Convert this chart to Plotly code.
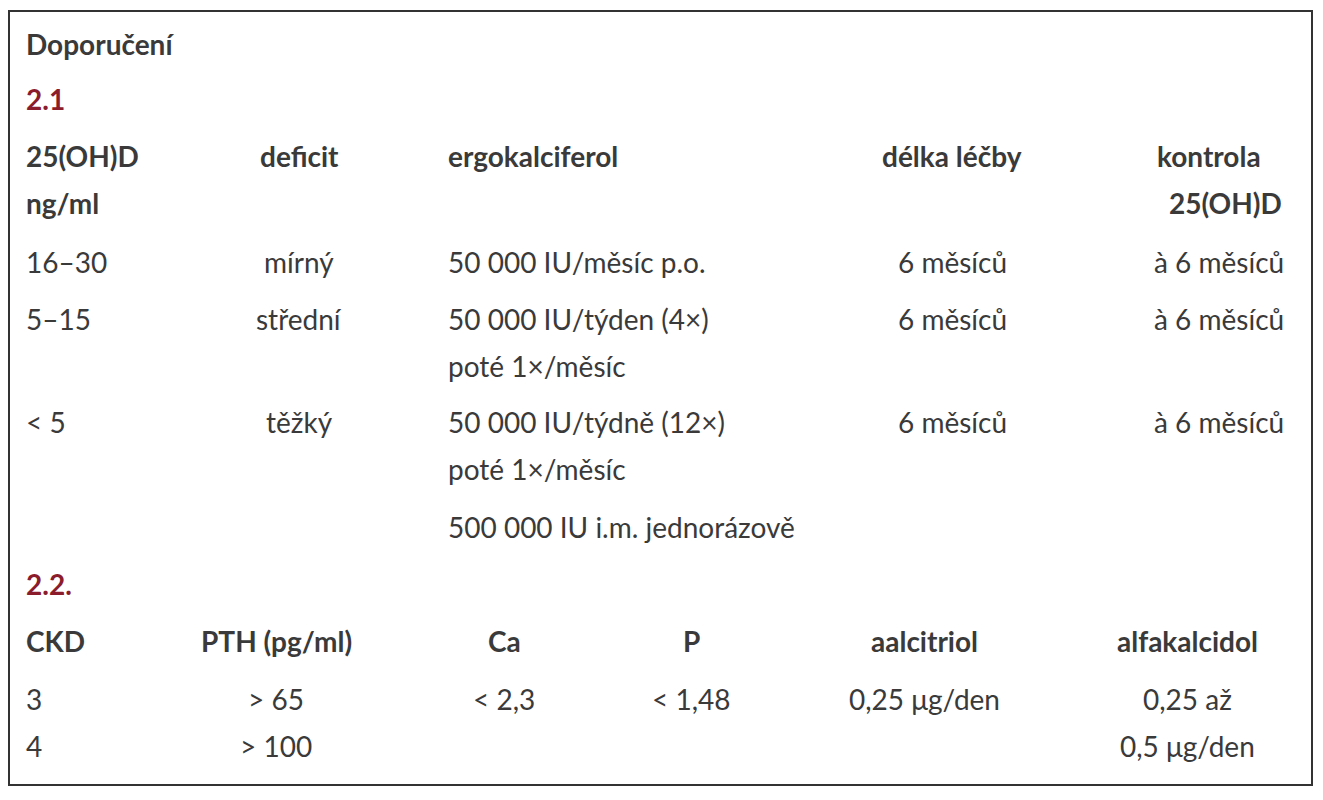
import plotly.graph_objects as go

title = "Doporučení"
sec1 = "2.1"
sec2 = "2.2."
s1_headers = [["25(OH)D", "ng/ml"], ["deficit"], ["ergokalciferol"], ["délka léčby"], ["kontrola", "25(OH)D"]]
s1_level = [["16–30"], ["5–15"], ["< 5"], []]
s1_deficit = [["mírný"], ["střední"], ["těžký"], []]
s1_dose = [["50 000 IU/měsíc p.o."], ["50 000 IU/týden (4×)", "poté 1×/měsíc"],
           ["50 000 IU/týdně (12×)", "poté 1×/měsíc"], ["500 000 IU i.m. jednorázově"]]
s1_length = [["6 měsíců"], ["6 měsíců"], ["6 měsíců"], []]
s1_control = [["à 6 měsíců"], ["à 6 měsíců"], ["à 6 měsíců"], []]
s2_headers = ["CKD", "PTH (pg/ml)", "Ca", "P", "aalcitriol", "alfakalcidol"]
s2_ckd = ["3", "4"]
s2_pth = ["> 65", "> 100"]
s2_ca = ["< 2,3", ""]
s2_p = ["< 1,48", ""]
s2_calcitriol = ["0,25 μg/den", ""]
s2_alfa = ["0,25 až", "0,5 μg/den"]

TXT = "#3a3a3a"
RED = "#8b1c2c"
FS = 28
LH = 47
DX, DY = -9, -9
anns = []

def add(x, y, t, anchor="left", bold=False, color=TXT):
    anns.append(dict(x=x + DX, y=y + DY, xref="x", yref="y", text=f"<b>{t}</b>" if bold else t,
                     showarrow=False, xanchor=anchor, yanchor="middle",
                     font=dict(family="Lato", size=FS, color=color)))

add(25, 45, title, bold=True)
add(25, 100, sec1, bold=True, color=RED)
hx = [(25, "left"), (300, "center"), (447, "left"), (953, "center"), (1210, "center")]
for (x, a), lines in zip(hx, s1_headers):
    for i, l in enumerate(lines):
        if x == 1210 and i == 1:
            add(1285, 157 + i * LH, l, "right", True)
        else:
            add(x, 157 + i * LH, l, a, True)
row_y = [263, 320, 423, 528]
cols = [(s1_level, 25, "left"), (s1_deficit, 300, "center"), (s1_dose, 447, "left"),
        (s1_length, 953, "center"), (s1_control, 1287, "right")]
for data, x, a in cols:
    for y, lines in zip(row_y, data):
        for i, l in enumerate(lines):
            add(x, y + i * LH, l, a)
add(25, 585, sec2, bold=True, color=RED)
s2x = [(25, "left"), (277, "center"), (505, "center"), (692, "center"), (925, "center"), (1188, "center")]
for (x, a), h in zip(s2x, s2_headers):
    add(x, 642, h, a, True)
for (x, a), col in zip(s2x, [s2_ckd, s2_pth, s2_ca, s2_p, s2_calcitriol, s2_alfa]):
    for i, v in enumerate(col):
        if v:
            add(x, 700 + i * LH, v, a)

fig = go.Figure()
fig.update_layout(width=1323, height=800, margin=dict(l=0, r=0, t=0, b=0),
                  plot_bgcolor="white", paper_bgcolor="white", annotations=anns,
                  xaxis=dict(range=[0, 1323], visible=False),
                  yaxis=dict(range=[800, 0], visible=False),
                  shapes=[dict(type="rect", xref="x", yref="y", x0=9 + DX + 1, y0=12 + DY, x1=1313 + DX, y1=786 + DY,
                               line=dict(color="#333", width=2))])
fig.write_html("out.html")
